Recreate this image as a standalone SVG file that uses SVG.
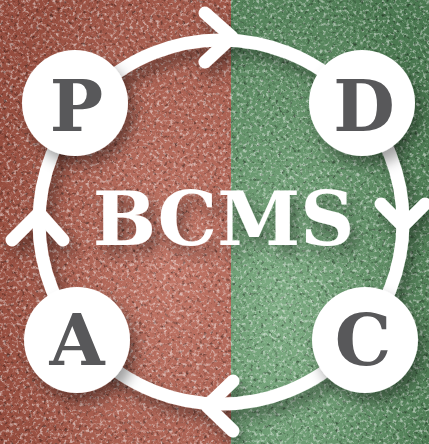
<svg xmlns="http://www.w3.org/2000/svg" width="429" height="444" viewBox="0 0 429 444">
  <defs>
    <style>
      .ring { fill: none; stroke: #ffffff; stroke-width: 13; }
      .chev { fill: none; stroke: #ffffff; stroke-width: 13; stroke-linecap: round; stroke-linejoin: round; }
      .node { fill: #ffffff; }
      .letter { font-family: "DejaVu Serif", "Liberation Serif", serif; font-weight: bold; font-size: 71px; fill: #58585a; text-anchor: middle; }
      .title { font-family: "DejaVu Serif", "Liberation Serif", serif; font-weight: bold; font-size: 75px; fill: #ffffff; text-anchor: middle; }
    </style>
    <filter id="shadow" x="-20%" y="-20%" width="150%" height="150%">
      <feDropShadow dx="6" dy="9" stdDeviation="7" flood-color="#000000" flood-opacity="0.38"/>
    </filter>
    <filter id="lightNoise" x="0" y="0" width="100%" height="100%">
      <feTurbulence type="fractalNoise" baseFrequency="0.3" numOctaves="3" seed="7"/>
      <feColorMatrix type="matrix" values="0 0 0 0 1  0 0 0 0 1  0 0 0 0 1  3.5 0 0 0 -1.75"/>
    </filter>
    <filter id="darkNoise" x="0" y="0" width="100%" height="100%">
      <feTurbulence type="fractalNoise" baseFrequency="0.28" numOctaves="3" seed="21"/>
      <feColorMatrix type="matrix" values="0 0 0 0 0  0 0 0 0 0  0 0 0 0 0  -3.5 0 0 0 1.5"/>
    </filter>
    <radialGradient id="glowR" cx="0.75" cy="0.6" r="0.8">
      <stop offset="0" stop-color="#ffffff" stop-opacity="0.16"/>
      <stop offset="1" stop-color="#000000" stop-opacity="0.18"/>
    </radialGradient>
    <radialGradient id="glowG" cx="0.25" cy="0.7" r="0.85">
      <stop offset="0" stop-color="#ffffff" stop-opacity="0.2"/>
      <stop offset="1" stop-color="#000000" stop-opacity="0.22"/>
    </radialGradient>
  </defs>

  <g id="background">
    <rect x="0" y="0" width="231" height="444" fill="#b65d4b"/>
    <rect x="231" y="0" width="198" height="444" fill="#5f9a66"/>
    <rect x="0" y="0" width="231" height="444" fill="url(#glowR)"/>
    <rect x="231" y="0" width="198" height="444" fill="url(#glowG)"/>
    <rect x="0" y="0" width="429" height="444" filter="url(#lightNoise)" opacity="0.5"/>
    <rect x="0" y="0" width="429" height="444" filter="url(#darkNoise)" opacity="0.4"/>
  </g>

  <g id="connectors" filter="url(#shadow)">
    <circle class="ring" cx="221" cy="222" r="182"/>
    <polyline class="chev" points="205,13 232,37 205,62"/>
    <polyline class="chev" points="381,204 403,226 425,204"/>
    <polyline class="chev" points="233,381 207,406 233,431"/>
    <polyline class="chev" points="12,240 39,213 63,240"/>
  </g>

  <g id="title" filter="url(#shadow)">
    <text class="title" x="223.5" y="245">BCMS</text>
  </g>

  <g id="node-P" filter="url(#shadow)">
    <circle class="node" cx="75" cy="103" r="53"/>
    <text class="letter" x="76.5" y="131">P</text>
  </g>
  <g id="node-D" filter="url(#shadow)">
    <circle class="node" cx="362" cy="103" r="53"/>
    <text class="letter" x="364" y="131">D</text>
  </g>
  <g id="node-C" filter="url(#shadow)">
    <circle class="node" cx="365" cy="340" r="53"/>
    <text class="letter" x="363" y="365">C</text>
  </g>
  <g id="node-A" filter="url(#shadow)">
    <circle class="node" cx="77" cy="340" r="53"/>
    <text class="letter" x="77" y="365">A</text>
  </g>
</svg>
